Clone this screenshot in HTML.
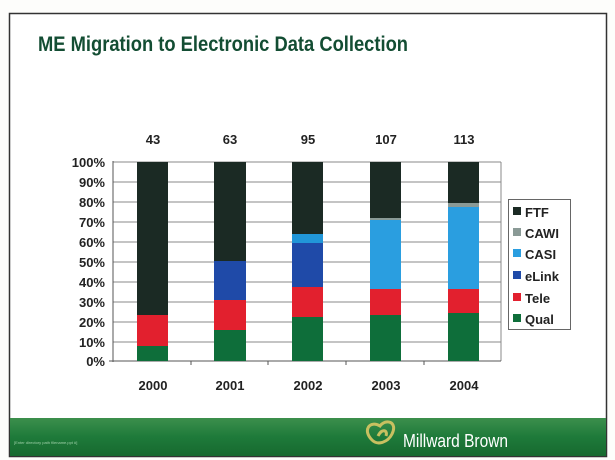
<!DOCTYPE html>
<html><head><meta charset="utf-8"><style>
html,body{margin:0;padding:0;background:#fff;}
svg{display:block;font-family:"Liberation Sans",Arial,sans-serif;}
</style></head><body>
<svg width="615" height="460" viewBox="0 0 615 460" xmlns="http://www.w3.org/2000/svg">
<rect x="0" y="0" width="615" height="460" fill="#fdfdfb"/>
<rect x="9.5" y="13.5" width="597" height="443" fill="#fff" stroke="#333" stroke-width="1.5"/>
<defs><linearGradient id="g" x1="0" y1="0" x2="0" y2="1"><stop offset="0" stop-color="#3c8f4c"/><stop offset="0.5" stop-color="#1e7a3a"/><stop offset="1" stop-color="#17692f"/></linearGradient></defs>
<rect x="10" y="418" width="596" height="38" fill="url(#g)"/>
<text x="38" y="51" font-size="21" font-weight="bold" fill="#134d33" textLength="370" lengthAdjust="spacingAndGlyphs">ME Migration to Electronic Data Collection</text>
<g stroke="#888" stroke-width="1">
<line x1="113" y1="162" x2="501" y2="162"/><line x1="113" y1="182" x2="501" y2="182"/><line x1="113" y1="202" x2="501" y2="202"/><line x1="113" y1="222" x2="501" y2="222"/><line x1="113" y1="242" x2="501" y2="242"/><line x1="113" y1="262" x2="501" y2="262"/><line x1="113" y1="282" x2="501" y2="282"/><line x1="113" y1="302" x2="501" y2="302"/><line x1="113" y1="322" x2="501" y2="322"/><line x1="113" y1="342" x2="501" y2="342"/>
<line x1="501" y1="162" x2="501" y2="361"/>
</g>
<g stroke="#555" stroke-width="1">
<line x1="113" y1="161" x2="113" y2="362"/><line x1="109" y1="361" x2="501" y2="361"/>
<line x1="191" y1="361" x2="191" y2="365"/><line x1="268" y1="361" x2="268" y2="365"/><line x1="346" y1="361" x2="346" y2="365"/><line x1="424" y1="361" x2="424" y2="365"/>
</g>
<g>
<rect x="137" y="162" width="31" height="153" fill="#1b2a24"/>
<rect x="137" y="315" width="31" height="31" fill="#e2202e"/>
<rect x="137" y="346" width="31" height="15" fill="#0e6e3a"/>
<rect x="214" y="162" width="32" height="99" fill="#1b2a24"/>
<rect x="214" y="261" width="32" height="40" fill="#1f4aa8"/>
<rect x="214" y="300" width="32" height="30" fill="#e2202e"/>
<rect x="214" y="330" width="32" height="31" fill="#0e6e3a"/>
<rect x="292" y="162" width="31" height="72" fill="#1b2a24"/>
<rect x="292" y="234" width="31" height="9" fill="#2196d8"/>
<rect x="292" y="243" width="31" height="45" fill="#1f4aa8"/>
<rect x="292" y="287" width="31" height="30" fill="#e2202e"/>
<rect x="292" y="317" width="31" height="44" fill="#0e6e3a"/>
<rect x="370" y="162" width="31" height="56" fill="#1b2a24"/>
<rect x="370" y="218" width="31" height="3" fill="#8a9a96"/>
<rect x="370" y="220" width="31" height="70" fill="#2a9ee0"/>
<rect x="370" y="289" width="31" height="27" fill="#e2202e"/>
<rect x="370" y="315" width="31" height="46" fill="#0e6e3a"/>
<rect x="448" y="162" width="31" height="42" fill="#1b2a24"/>
<rect x="448" y="203" width="31" height="5" fill="#8a9a96"/>
<rect x="448" y="207" width="31" height="83" fill="#2a9ee0"/>
<rect x="448" y="289" width="31" height="25" fill="#e2202e"/>
<rect x="448" y="313" width="31" height="48" fill="#0e6e3a"/>
</g>
<g font-size="13" font-weight="bold" fill="#222" text-anchor="middle">
<text x="153" y="144">43</text><text x="230" y="144">63</text><text x="308" y="144">95</text><text x="386" y="144">107</text><text x="464" y="144">113</text>
<text x="153" y="390">2000</text><text x="230" y="390">2001</text><text x="308" y="390">2002</text><text x="386" y="390">2003</text><text x="464" y="390">2004</text>
</g>
<g font-size="13" font-weight="bold" fill="#222" text-anchor="end">
<text x="105" y="167">100%</text><text x="105" y="187">90%</text><text x="105" y="207">80%</text><text x="105" y="227">70%</text><text x="105" y="247">60%</text><text x="105" y="267">50%</text><text x="105" y="287">40%</text><text x="105" y="307">30%</text><text x="105" y="327">20%</text><text x="105" y="347">10%</text><text x="105" y="366">0%</text>
</g>
<rect x="508.5" y="199.5" width="62" height="130" fill="#fff" stroke="#666"/>
<g font-size="13" font-weight="bold" fill="#222">
<rect x="513" y="207" width="8" height="8" fill="#1b2a24"/><text x="525" y="217">FTF</text>
<rect x="513" y="228" width="8" height="8" fill="#8a9a96"/><text x="525" y="238">CAWI</text>
<rect x="513" y="249" width="8" height="8" fill="#2a9ee0"/><text x="525" y="259">CASI</text>
<rect x="513" y="271" width="8" height="8" fill="#1f4aa8"/><text x="525" y="281">eLink</text>
<rect x="513" y="293" width="8" height="8" fill="#e2202e"/><text x="525" y="303">Tele</text>
<rect x="513" y="314" width="8" height="8" fill="#0e6e3a"/><text x="525" y="324">Qual</text>
</g>
<text x="14" y="444" font-size="4" fill="#9fd0a8">[Enter directory path filename.ppt #]</text>
<g fill="none" stroke="#c8c060" stroke-width="3">
<path d="M372 440 C362 430 370 420 380 426 C386 418 398 422 392 434 C388 442 378 446 372 440 Z"/>
<path d="M378 436 C382 428 388 430 386 436"/>
</g>
<text x="403" y="447" font-size="18" fill="#fff" textLength="105" lengthAdjust="spacingAndGlyphs">Millward Brown</text>
</svg>
</body></html>
